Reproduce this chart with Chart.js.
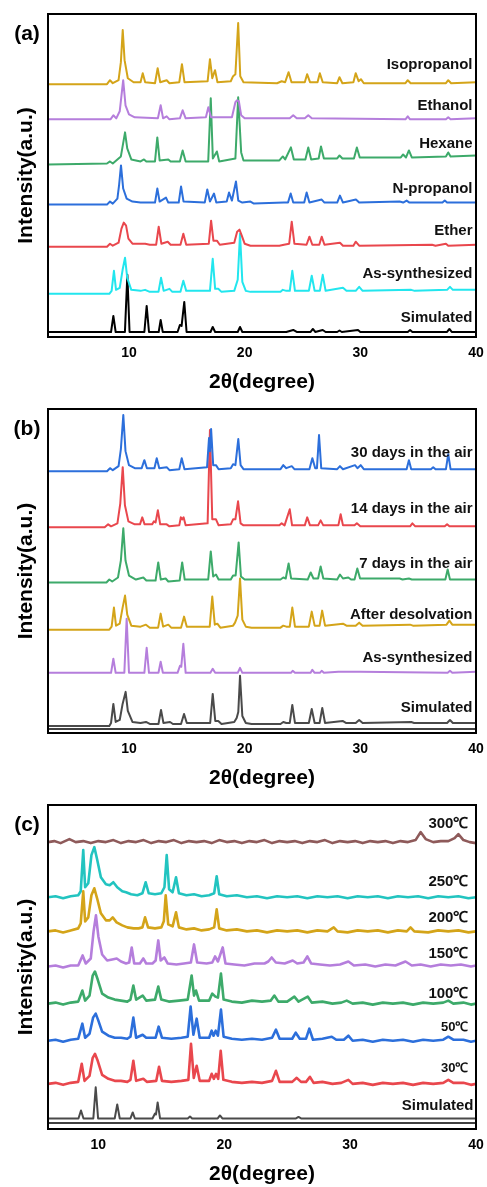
<!DOCTYPE html>
<html><head><meta charset="utf-8">
<script src="https://cdn.jsdelivr.net/npm/chart.js@4.4.0/dist/chart.umd.min.js"></script>
<style>
html,body{margin:0;padding:0;background:#fff;width:487px;height:1187px;overflow:hidden}
canvas{position:absolute;left:0}
</style></head><body>
<canvas id="ca" width="487" height="400" style="top:0px"></canvas>
<canvas id="cb" width="487" height="395" style="top:400px"></canvas>
<canvas id="cc" width="487" height="392" style="top:795px"></canvas>
<script>
// ---------- shared ----------
const xTicks = [10, 20, 30, 40];
const xTitle = '2θ(degree)';
const yTitle = 'Intensity(a.u.)';

// ---------- panel (a) ----------
const aNames = ['Isopropanol', 'Ethanol', 'Hexane', 'N-propanol', 'Ether', 'As-synthesized', 'Simulated'];
const aColors = ['#D4A419', '#B57EDC', '#3DAA6A', '#2C6FDB', '#E9474D', '#22E6EE', '#000000'];
const aOffsets = [252, 217, 172, 132, 90, 43, 5];
const aLabelY = [271, 230, 193, 148, 106, 63, 19];
const aIso = [[3,0],[8.1,0],[8.36,4],[8.6,1],[9.1,4],[9.3,22],[9.46,54],[9.62,24],[9.9,6],[10.4,2],[11.0,2],[11.19,11],[11.4,2],[12.25,1],[12.48,16],[12.7,2],[13.26,4],[13.5,1],[14.35,2],[14.58,20],[14.8,2],[16.8,3],[17.0,25],[17.2,6],[17.44,14],[17.65,2],[18.8,3],[19.0,8],[19.2,10],[19.44,61],[19.62,8],[19.9,2],[22.8,1],[23.2,3],[23.5,2],[23.8,12],[24.05,2],[25.2,2],[25.4,10],[25.65,2],[26.3,2],[26.5,11],[26.75,2],[28.0,1],[28.2,7],[28.45,1],[29.4,2],[29.6,11],[29.85,3],[30.05,5],[30.3,1],[33.9,1],[34.1,4],[34.35,1],[37.4,1],[37.6,4],[37.85,1],[40,2]];
const aEth = [[3,0],[8.4,0],[8.65,4],[8.9,1],[9.2,8],[9.5,39],[9.7,14],[10.0,5],[10.5,2],[12.5,1],[12.74,14],[12.95,1],[13.26,3],[13.5,0],[14.4,1],[14.64,9],[14.9,1],[16.65,2],[16.86,12],[17.1,2],[18.9,2],[19.2,17],[19.35,19],[19.5,18],[19.7,4],[20.0,1],[23.9,1],[24.2,4],[24.5,1],[25.2,1],[25.5,4],[25.8,1],[33.9,0],[34.1,3],[34.3,0],[37.4,0],[37.6,2],[37.8,0],[40,1]];
const aHex = [[3,0],[8.1,1],[8.36,3],[8.6,1],[9.3,8],[9.66,32],[9.85,16],[10.2,5],[11.0,3],[11.3,5],[11.5,3],[12.25,3],[12.45,27],[12.65,4],[13.4,5],[13.6,3],[14.4,3],[14.64,14],[14.9,3],[16.85,3],[17.07,66],[17.25,6],[17.6,13],[17.8,3],[19.2,6],[19.44,67],[19.7,12],[19.9,4],[23.0,4],[23.3,8],[23.5,5],[24.0,17],[24.25,5],[25.25,5],[25.5,17],[25.75,5],[26.4,6],[26.6,18],[26.85,6],[28.0,6],[28.2,9],[28.45,6],[29.45,6],[29.7,17],[29.95,7],[33.5,7],[33.7,10],[33.95,7],[34.2,14],[34.45,7],[37.4,8],[37.6,12],[37.8,8],[40,9]];
const aNpr = [[3,0],[8.1,0],[8.36,3],[8.6,1],[9.0,6],[9.15,20],[9.31,39],[9.5,16],[9.8,6],[10.3,3],[11,2],[12.25,2],[12.45,16],[12.65,3],[13.2,7],[13.4,2],[14.3,2],[14.5,18],[14.72,3],[16.55,2],[16.77,15],[17.0,3],[17.35,11],[17.55,2],[18.45,3],[18.65,12],[18.9,4],[19.25,23],[19.45,4],[19.8,2],[20.5,3],[20.8,1],[23.4,2],[23.75,2],[23.98,11],[24.2,2],[25.15,2],[25.36,12],[25.6,2],[26.66,5],[26.9,2],[28.0,2],[28.24,9],[28.5,2],[29.62,5],[29.9,2],[33.4,3],[33.7,2],[34.0,4],[34.25,2],[37.1,2],[37.3,4],[37.5,2],[40,2]];
const aEther = [[3,0],[8.1,0],[8.36,3],[8.6,1],[9.1,4],[9.35,18],[9.55,24],[9.75,21],[9.95,8],[10.3,3],[11.0,3],[11.4,3],[11.8,2],[12.35,2],[12.57,20],[12.8,3],[13.35,5],[13.6,2],[14.45,2],[14.7,13],[14.95,2],[16.9,3],[17.1,26],[17.3,6],[17.6,6],[17.85,2],[19.1,4],[19.35,15],[19.55,17],[19.75,11],[20.0,3],[20.5,1],[23.0,1],[23.4,2],[23.85,3],[24.07,25],[24.3,3],[25.35,2],[25.6,10],[25.85,2],[26.45,2],[26.66,10],[26.9,2],[28.24,4],[28.5,1],[29.4,1],[29.6,5],[29.9,1],[36.2,2],[36.5,1],[37.4,3],[37.6,1],[40,2]];
const aAsSyn = [[3,0],[8.3,0],[8.5,3],[8.7,23],[8.88,4],[9.2,6],[9.45,24],[9.66,36],[9.85,16],[10.2,4],[11.0,3],[11.39,4],[11.8,2],[12.55,2],[12.77,16],[13.0,3],[13.5,5],[13.75,2],[14.45,2],[14.7,13],[14.95,3],[17.0,3],[17.24,35],[17.45,5],[17.72,5],[18.0,2],[19.1,3],[19.4,14],[19.6,60],[19.8,12],[20.1,3],[20.5,2],[23.1,2],[23.3,4],[23.6,3],[23.9,3],[24.12,23],[24.35,3],[25.55,3],[25.8,18],[26.05,3],[26.5,3],[26.75,19],[27.0,3],[28.5,6],[28.8,3],[29.6,3],[29.9,7],[30.2,3],[34.4,4],[34.7,3],[37.5,4],[37.75,7],[38.0,4],[40,4]];
const aSim = [[3,0],[8.45,0],[8.65,16],[8.85,0],[9.65,0],[9.86,57],[10.05,0],[11.33,0],[11.53,26],[11.73,0],[12.57,0],[12.74,12],[12.92,0],[14.2,0],[14.4,7],[14.55,6],[14.78,30],[14.98,0],[17.05,0],[17.24,5],[17.45,0],[19.4,0],[19.6,5],[19.8,0],[23.6,0],[24.2,2],[24.5,0],[25.7,0],[25.9,3],[26.1,0],[26.75,2],[27.0,0],[28.0,0],[28.2,1.5],[28.4,0],[29.8,2],[30.0,0],[34.1,0],[34.3,2],[34.5,0],[37.5,0],[37.7,3],[37.9,0],[40,0]];

// ---------- panel (b) ----------
const bNames = ['30 days in the air', '14 days in the air', '7 days in the air', 'After desolvation', 'As-synthesized', 'Simulated'];
const bColors = ['#2C6FDB', '#E9474D', '#3DAA6A', '#D4A419', '#B57EDC', '#4A4A4A'];
const bOffsets = [261, 205, 150, 103, 60, 7];
const bLabelY = [279, 223, 169, 118, 75, 25];
const b30 = [[3,0],[8.1,0],[8.36,3],[8.6,1],[9.1,5],[9.3,22],[9.51,56],[9.7,20],[10.0,6],[10.5,3],[11.1,3],[11.33,11],[11.55,3],[12.2,3],[12.4,13],[12.62,3],[13.26,4],[13.5,1],[14.35,2],[14.56,13],[14.8,2],[16.75,4],[16.92,33],[17.0,20],[17.1,42],[17.28,6],[17.52,6],[17.75,2],[18.8,3],[19.0,7],[19.2,6],[19.45,32],[19.65,6],[19.9,2],[23.1,2],[23.34,6],[23.6,3],[24.07,5],[24.3,2],[25.6,2],[25.85,13],[26.1,3],[26.25,3],[26.43,36],[26.62,3],[28.0,2],[28.24,5],[28.5,2],[29.54,6],[29.75,3],[30.03,6],[30.3,2],[34.0,2],[34.2,11],[34.4,2],[36.1,2],[36.3,4],[36.5,2],[37.4,2],[37.6,17],[37.8,2],[40,2]];
const b14 = [[3,0],[7.9,0],[8.2,3],[8.45,1],[9.0,4],[9.25,24],[9.46,60],[9.65,22],[9.95,6],[10.5,3],[10.95,3],[11.15,10],[11.35,3],[12.0,3],[12.16,6],[12.3,5],[12.5,17],[12.7,3],[13.26,3],[13.5,1],[14.35,2],[14.48,10],[14.6,8],[14.72,10],[14.9,2],[16.8,4],[17.0,97],[17.2,8],[17.52,8],[17.75,2],[18.8,3],[19.0,8],[19.2,8],[19.43,26],[19.65,4],[19.9,2],[23.0,2],[23.2,4],[23.45,2],[23.9,18],[24.1,2],[25.2,2],[25.41,10],[25.65,2],[26.35,2],[26.57,7],[26.8,2],[28.1,2],[28.3,13],[28.5,2],[29.5,2],[29.7,4],[30.0,1],[34.3,1],[34.5,4],[34.75,1],[37.3,1],[37.5,3],[37.7,1],[40,1]];
const b7 = [[3,0],[8.05,0],[8.3,3],[8.55,1],[9.05,5],[9.3,22],[9.51,54],[9.7,22],[10.0,7],[10.6,3],[11.24,5],[11.5,2],[12.3,2],[12.53,20],[12.75,3],[13.17,4],[13.4,1],[14.38,2],[14.6,20],[14.82,3],[16.85,3],[17.07,31],[17.28,6],[17.52,8],[17.75,3],[18.8,3],[19.0,7],[19.22,7],[19.48,40],[19.68,6],[20.0,3],[23.1,3],[23.34,5],[23.55,4],[23.8,19],[24.02,4],[25.45,3],[25.71,10],[25.95,4],[26.35,4],[26.57,16],[26.8,4],[28.0,3],[28.24,8],[28.5,4],[28.96,5],[29.2,3],[29.5,3],[29.74,14],[29.98,4],[33.4,4],[33.65,3],[34.2,4],[34.45,3],[36.3,3],[36.55,3],[37.35,3],[37.55,13],[37.75,3],[40,3]];
const bDesolv = [[3,0],[8.3,0],[8.5,3],[8.7,22],[8.88,4],[9.2,6],[9.45,22],[9.66,34],[9.85,15],[10.2,4],[11.0,3],[11.47,5],[11.8,2],[12.52,2],[12.74,16],[12.95,3],[13.4,5],[13.65,2],[14.5,2],[14.76,13],[15.0,3],[16.98,3],[17.2,33],[17.42,5],[17.64,6],[17.9,2],[19.0,4],[19.17,7],[19.4,14],[19.6,51],[19.8,10],[20.1,3],[20.6,2],[23.1,2],[23.34,4],[23.6,3],[23.9,3],[24.12,22],[24.35,3],[25.55,3],[25.8,18],[26.05,4],[26.48,4],[26.7,19],[26.95,4],[28.5,6],[28.8,4],[29.6,4],[29.9,7],[30.2,4],[34.3,5],[34.55,4],[37.45,5],[37.7,9],[37.95,5],[40,5]];
const bAsSyn = [[3,0],[8.45,0],[8.65,14],[8.85,0],[9.6,0],[9.8,54],[10.0,0],[11.33,0],[11.53,25],[11.73,0],[12.55,0],[12.74,11],[12.93,0],[14.2,0],[14.41,7],[14.52,6],[14.7,29],[14.9,0],[17.04,0],[17.24,4],[17.45,0],[19.4,0],[19.6,5],[19.8,0],[24.0,0],[24.15,2],[24.35,0],[25.7,0],[25.85,3],[26.05,0],[26.5,0],[26.66,2],[26.85,0],[28.1,1],[30.0,1],[37.55,0],[37.75,2],[37.95,0],[40,1]];
const bSim = [[3,0],[8.3,0],[8.45,3],[8.65,22],[8.85,4],[9.2,6],[9.45,22],[9.71,34],[9.9,15],[10.3,4],[11.0,3],[11.47,4],[11.8,2],[12.55,2],[12.77,16],[12.98,3],[13.55,4],[13.8,2],[14.5,2],[14.76,12],[15.0,3],[17.02,3],[17.24,32],[17.46,5],[17.72,5],[18.0,2],[19.1,4],[19.31,8],[19.45,14],[19.6,50],[19.8,10],[20.1,3],[20.6,2],[23.1,2],[23.34,4],[23.6,3],[23.9,3],[24.12,21],[24.35,3],[25.55,3],[25.8,17],[26.05,3],[26.48,3],[26.71,18],[26.95,3],[28.47,5],[28.75,3],[29.6,3],[29.9,6],[30.2,3],[34.4,4],[34.65,3],[37.5,3],[37.75,6],[38.0,3],[40,3]];

// ---------- panel (c) ----------
const cNames = ['300℃', '250℃', '200℃', '150℃', '100℃', '50℃', '30℃', 'Simulated'];
const cColors = ['#8E5A5A', '#22C4C0', '#D4A419', '#B57EDC', '#3DAA6A', '#2C6FDB', '#E9474D', '#4A4A4A'];
const cOffsets = [286, 231, 197, 162, 125, 88, 45, 10.5];
const cLabelY = [304, 246, 210, 175, 135, 101, 60, 23];
const cLabelSize = [15, 15, 15, 15, 15, 13, 13, 15];
const c300 = [[6,0],[6.5,1],[7.0,-1],[7.7,3],[8.2,0],[8.8,1],[9.4,-1],[10.0,1],[10.6,0],[11.2,2],[11.8,-1],[12.4,1],[13.0,0],[13.6,2],[14.2,-1],[14.8,1],[15.4,0],[16.0,2],[16.6,-1],[17.2,1],[17.8,0],[18.4,1],[19.0,-1],[19.6,2],[20.2,0],[20.8,1],[21.4,-1],[22.0,1],[22.6,0],[23.2,2],[23.8,-1],[24.4,1],[25.0,0],[25.6,1],[26.2,-1],[26.8,1],[27.4,0],[28.0,2],[28.6,-1],[29.2,1],[29.8,0],[30.4,1],[31.0,-1],[31.6,1],[32.2,0],[32.8,1],[33.4,-1],[34.0,1],[34.6,0],[35.2,2],[35.6,10],[36.0,3],[36.6,0],[37.2,1],[37.8,1],[38.3,4],[38.6,8],[39.0,2],[39.5,0],[40,-1]];
const c250 = [[6,0],[6.6,1],[7.2,-1],[7.8,1],[8.4,2],[8.6,6],[8.8,47],[8.95,10],[9.2,14],[9.45,42],[9.68,50],[9.9,38],[10.2,20],[10.6,13],[10.9,12],[11.19,15],[11.5,10],[11.9,6],[12.2,5],[12.6,3],[13.1,2],[13.5,4],[13.76,15],[14.0,4],[14.5,3],[15.0,4],[15.25,10],[15.43,42],[15.62,8],[15.9,5],[16.17,20],[16.4,4],[17.0,2],[17.6,3],[18.2,1],[18.8,2],[19.2,4],[19.4,21],[19.6,3],[20.2,1],[21.0,2],[21.8,0],[22.6,1],[23.4,-1],[24.2,1],[25.0,0],[25.8,1],[26.6,-1],[27.4,1],[28.2,0],[29.0,1],[29.8,-1],[30.6,1],[31.4,0],[32.2,1],[33.0,-1],[33.8,1],[34.6,0],[35.4,1],[36.2,-1],[37.0,1],[37.8,0],[38.6,1],[39.4,-1],[40,0]];
const c200 = [[6,0],[6.6,1],[7.2,-1],[7.8,1],[8.4,3],[8.6,8],[8.8,40],[8.95,10],[9.2,14],[9.45,36],[9.68,43],[9.9,33],[10.2,18],[10.6,11],[10.9,11],[11.14,14],[11.45,9],[11.9,6],[12.3,4],[12.8,3],[13.2,3],[13.5,4],[13.71,14],[13.95,4],[14.5,3],[15.0,4],[15.2,10],[15.35,36],[15.55,7],[15.9,5],[16.17,19],[16.4,4],[17.0,2],[17.6,3],[18.2,1],[18.8,2],[19.2,4],[19.4,22],[19.6,3],[20.2,1],[21.0,2],[21.8,0],[22.6,1],[23.4,-1],[24.2,1],[25.0,0],[25.8,1],[26.6,-1],[27.4,1],[28.2,0],[28.7,4],[29.0,0],[29.8,-1],[30.6,1],[31.4,0],[32.2,1],[33.0,-1],[33.8,1],[34.5,0],[34.8,4],[35.1,0],[36.2,-1],[37.0,1],[37.8,0],[38.6,1],[39.4,-1],[40,0]];
const c150 = [[6,0],[6.6,1],[7.2,-1],[7.8,1],[8.4,1],[8.75,11],[9.0,3],[9.4,8],[9.62,35],[9.81,51],[10.0,30],[10.3,12],[10.7,6],[11.1,7],[11.46,8],[11.8,5],[12.2,3],[12.45,4],[12.65,19],[12.85,3],[13.3,3],[13.57,8],[13.8,3],[14.3,3],[14.55,6],[14.76,26],[14.95,6],[15.24,9],[15.5,3],[16.2,2],[16.8,3],[17.35,4],[17.6,22],[17.85,4],[18.6,3],[19.05,4],[19.27,10],[19.5,5],[19.88,19],[20.1,3],[20.8,2],[21.6,1],[22.4,3],[23.2,3],[23.5,5],[23.77,9],[24.1,4],[24.8,3],[25.44,6],[25.8,3],[26.3,4],[26.6,10],[26.9,3],[27.6,2],[28.4,1],[29.2,2],[29.86,5],[30.3,1],[31.2,2],[32.0,0],[32.8,2],[33.6,1],[34.4,5],[34.9,1],[35.6,2],[36.4,0],[37.2,2],[38.0,1],[38.8,2],[39.6,0],[40,1]];
const c100 = [[6,0],[6.6,1],[7.2,-1],[7.8,1],[8.4,2],[8.73,13],[8.95,3],[9.3,8],[9.55,28],[9.73,32],[9.95,24],[10.3,10],[10.8,6],[11.3,4],[11.8,3],[12.3,2],[12.55,4],[12.78,18],[13.0,4],[13.52,8],[13.8,3],[14.5,4],[14.76,17],[15.0,4],[15.6,2],[16.4,3],[17.1,4],[17.41,28],[17.6,8],[17.76,13],[18.0,3],[18.8,3],[19.05,10],[19.3,7],[19.5,6],[19.74,30],[19.95,4],[20.6,2],[21.4,1],[22.2,3],[23.0,2],[23.7,3],[23.98,8],[24.3,2],[25.0,2],[25.57,7],[25.9,2],[26.63,7],[26.95,1],[27.8,2],[28.6,0],[29.3,1],[29.73,3],[30.2,0],[31.0,1],[31.8,-1],[32.6,1],[33.4,0],[34.2,1],[35.0,-1],[35.8,1],[36.6,0],[37.4,1],[37.8,3],[38.2,0],[39.0,1],[39.6,-1],[40,0]];
const c50 = [[6,0],[6.6,1],[7.2,-1],[7.8,1],[8.4,2],[8.73,17],[8.95,3],[9.3,7],[9.58,23],[9.79,27],[10.0,20],[10.3,9],[10.8,5],[11.3,3],[11.8,3],[12.3,2],[12.55,4],[12.78,23],[13.0,3],[13.52,6],[13.8,3],[14.55,3],[14.79,14],[15.05,3],[15.8,2],[16.6,3],[17.1,4],[17.33,34],[17.55,6],[17.81,22],[18.05,3],[18.8,3],[19.0,10],[19.15,5],[19.32,10],[19.5,5],[19.74,31],[19.95,4],[20.6,2],[21.4,1],[22.2,2],[23.0,1],[23.8,3],[24.11,11],[24.4,2],[25.4,2],[25.68,8],[26.0,2],[26.5,2],[26.76,12],[27.05,1],[27.8,2],[28.54,4],[28.9,1],[29.5,1],[29.86,5],[30.2,0],[31.0,1],[31.8,-1],[32.6,1],[33.4,0],[34.2,1],[35.0,-1],[35.8,1],[36.6,0],[37.4,1],[37.8,4],[38.2,1],[39.0,1],[39.6,-1],[40,0]];
const c30 = [[6,0],[6.6,1],[7.2,-1],[7.8,1],[8.4,2],[8.68,20],[8.9,3],[9.3,8],[9.55,26],[9.73,30],[9.95,23],[10.3,9],[10.8,5],[11.3,3],[11.8,3],[12.3,2],[12.55,4],[12.78,23],[13.0,3],[13.57,5],[13.85,2],[14.6,3],[14.82,17],[15.05,3],[15.8,2],[16.6,3],[17.15,4],[17.36,40],[17.58,6],[17.81,18],[18.05,3],[18.8,3],[19.0,10],[19.17,5],[19.35,10],[19.52,5],[19.72,33],[19.93,4],[20.6,2],[21.4,1],[22.2,2],[23.0,1],[23.8,3],[24.11,13],[24.4,2],[25.4,2],[25.76,6],[26.1,2],[26.5,2],[26.81,7],[27.1,1],[27.8,2],[28.6,0],[29.3,1],[29.86,4],[30.2,0],[31.0,1],[31.8,-1],[32.6,1],[33.4,0],[34.2,1],[35.0,-1],[35.8,1],[36.6,0],[37.4,1],[37.8,4],[38.2,1],[39.0,1],[39.6,-1],[40,0]];
const cSim = [[6,0],[8.42,0],[8.62,8],[8.82,0],[9.6,0],[9.79,31],[9.98,0],[11.3,0],[11.5,14],[11.7,0],[12.55,0],[12.73,6],[12.9,0],[14.3,0],[14.5,5],[14.58,4],[14.71,16],[14.9,0],[17.1,0],[17.28,2],[17.45,0],[19.48,0],[19.66,3],[19.85,0],[25.7,0],[25.9,1.5],[26.1,0],[40,0]];

// ---------- builder ----------
const FONT = "'Liberation Sans', Arial, Helvetica, sans-serif";
Chart.defaults.font.family = FONT;
Chart.defaults.color = '#000';

function makePanel(id, cfg) {
  const datasets = cfg.series.map((pts, i) => ({
    label: cfg.names[i],
    data: pts.map(p => ({ x: p[0], y: p[1] + cfg.offsets[i] })),
    borderColor: cfg.colors[i],
    borderWidth: (cfg.widths && cfg.widths[i]) || cfg.lineWidth,
    pointRadius: 0,
    tension: 0,
    borderJoinStyle: 'round',
    fill: false
  }));
  const deco = {
    id: 'deco' + id,
    afterDatasetsDraw(chart) {
      const { ctx, scales } = chart;
      ctx.save();
      ctx.fillStyle = '#111';
      ctx.textAlign = 'right';
      ctx.textBaseline = 'middle';
      cfg.names.forEach((n, i) => {
        const sz = (cfg.labelSize && cfg.labelSize[i]) || 15;
        ctx.font = 'bold ' + sz + 'px ' + FONT;
        const lx = Array.isArray(cfg.labelX) ? cfg.labelX[i] : cfg.labelX;
        ctx.fillText(n, scales.x.getPixelForValue(lx), scales.y.getPixelForValue(cfg.labelY[i]));
      });
      ctx.restore();
    },
    afterDraw(chart) {
      const { ctx, chartArea: a } = chart;
      ctx.save();
      ctx.strokeStyle = '#000';
      ctx.lineWidth = 2;
      ctx.strokeRect(a.left, a.top, a.right - a.left, a.bottom - a.top);
      if (cfg.innerLine) {
        ctx.lineWidth = 1.5;
        ctx.beginPath();
        ctx.moveTo(a.left, a.bottom - cfg.innerLine);
        ctx.lineTo(a.right, a.bottom - cfg.innerLine);
        ctx.stroke();
      }
      ctx.fillStyle = '#000';
      ctx.font = 'bold 21px ' + FONT;
      ctx.textAlign = 'center';
      ctx.textBaseline = 'middle';
      ctx.fillText(cfg.letter, a.left - 21, a.top + 20);
      ctx.restore();
    }
  };
  return new Chart(document.getElementById(id), {
    type: 'line',
    data: { datasets },
    options: {
      responsive: false,
      animation: false,
      devicePixelRatio: 1,
      layout: { padding: { top: cfg.padTop, right: 11, bottom: cfg.padBottom, left: 0 } },
      plugins: { legend: { display: false }, tooltip: { enabled: false } },
      scales: {
        x: {
          type: 'linear', min: cfg.xMin, max: 40,
          afterBuildTicks: s => { s.ticks = xTicks.map(v => ({ value: v })); },
          afterFit: s => { s.paddingLeft = 0; s.paddingRight = 0; },
          ticks: { font: { size: 14, weight: 'bold' }, color: '#000', padding: 8, maxRotation: 0 },
          grid: { display: false, drawTicks: false },
          border: { display: true, color: '#000', width: 2 },
          title: { display: true, text: xTitle, font: { size: 21, weight: 'bold' }, color: '#000', padding: { top: 0, bottom: 0 } }
        },
        y: {
          type: 'linear', min: 0, max: cfg.yMax,
          afterFit: s => { s.width = 48; s.paddingTop = 0; s.paddingBottom = 0; },
          ticks: { display: false },
          grid: { display: false, drawTicks: false },
          border: { display: true, color: '#000', width: 2 },
          title: { display: true, text: yTitle, font: { size: 21, weight: 'bold' }, color: '#000', padding: { top: 14, bottom: 0 } }
        }
      }
    },
    plugins: [deco]
  });
}

makePanel('ca', {
  series: [aIso, aEth, aHex, aNpr, aEther, aAsSyn, aSim],
  names: aNames, colors: aColors, offsets: aOffsets, labelY: aLabelY, labelX: 39.7,
  xMin: 3, yMax: 322, padTop: 14, padBottom: 5, lineWidth: 2, letter: '(a)'
});
makePanel('cb', {
  series: [b30, b14, b7, bDesolv, bAsSyn, bSim],
  names: bNames, colors: bColors, offsets: bOffsets, labelY: bLabelY, labelX: 39.7,
  xMin: 3, yMax: 323, padTop: 9, padBottom: 4, lineWidth: 2, letter: '(b)', innerLine: 4
});
makePanel('cc', {
  series: [c300, c250, c200, c150, c100, c50, c30, cSim],
  names: cNames, colors: cColors, offsets: cOffsets, labelY: cLabelY,
  labelX: [39.4, 39.4, 39.4, 39.4, 39.4, 39.4, 39.4, 39.8], labelSize: cLabelSize,
  xMin: 6, yMax: 323, padTop: 10, padBottom: 0, lineWidth: 2.6,
  widths: [2.6, 2.6, 2.6, 2.6, 2.6, 2.6, 2.6, 2], letter: '(c)', innerLine: 6
});
</script>
</body></html>
